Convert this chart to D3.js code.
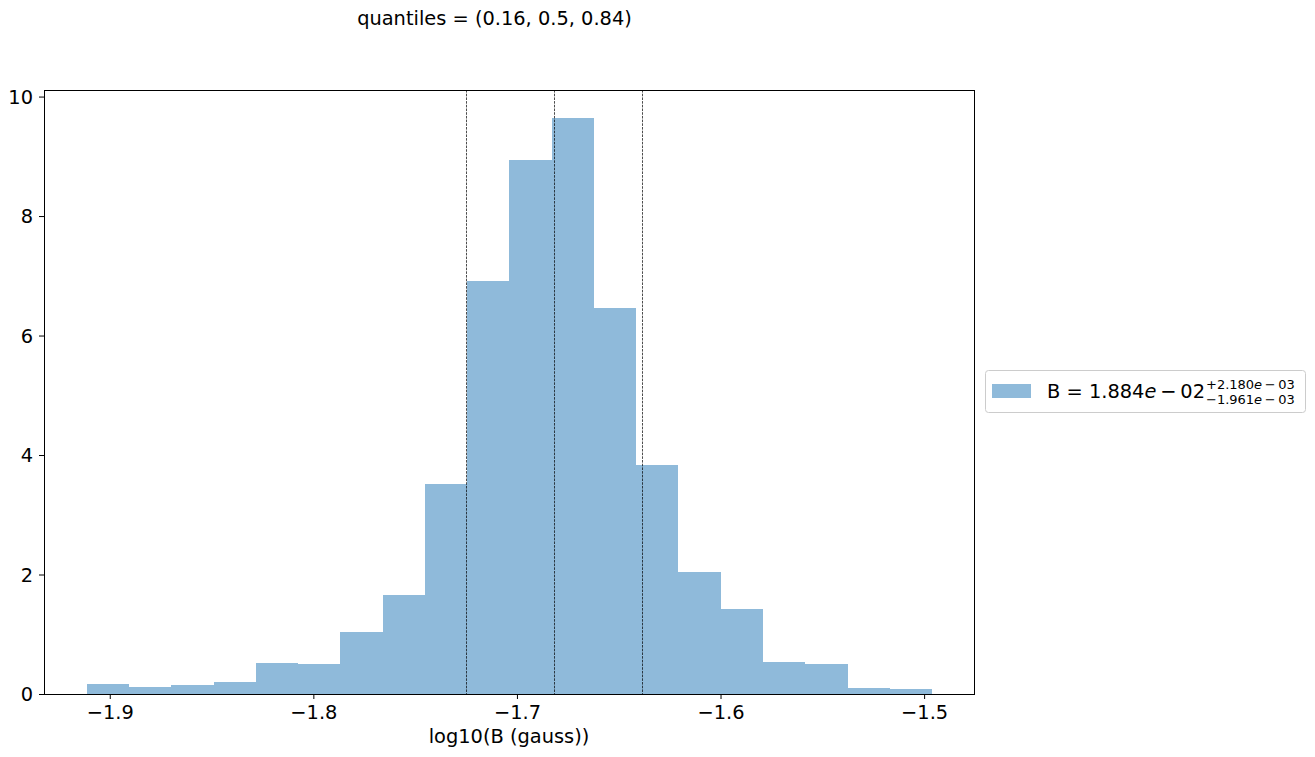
<!DOCTYPE html>
<html><head><meta charset="utf-8">
<script src="https://cdn.jsdelivr.net/npm/d3@7"></script>
<style>
body{margin:0;background:#fff;}
text{font-family:"DejaVu Sans",sans-serif;fill:#000;}
</style></head>
<body><svg id="c" width="1315" height="757"></svg>
<script>
const binStart = -1.9113;
const binWidth = 0.020760;
const densities = [0.167,0.117,0.151,0.200,0.519,0.502,1.04,1.657,3.51,6.91,8.94,9.64,6.46,3.83,2.04,1.42,0.536,0.50,0.10,0.084];
const quantileValues = [-1.7249,-1.6816,-1.6384];
const xTicks = [-1.9,-1.8,-1.7,-1.6,-1.5];
const yTicks = [0,2,4,6,8,10];
const titleText = "quantiles = (0.16, 0.5, 0.84)";
const xLabel = "log10(B (gauss))";

const svg = d3.select("#c");
const L=44,R=974,T=90,B=694;
const x = d3.scaleLinear().domain([-1.9323,-1.4755]).range([L,R]);
const y = d3.scaleLinear().domain([0,10.11]).range([B,T]);
const fs = 19.4;

const bins = densities.map((d,i)=>({x0:binStart+i*binWidth,x1:binStart+(i+1)*binWidth,v:d}));
svg.append("g").attr("shape-rendering","crispEdges").selectAll("rect").data(bins).join("rect")
  .attr("x",d=>x(d.x0)).attr("width",d=>x(d.x1)-x(d.x0))
  .attr("y",d=>y(d.v)).attr("height",d=>y(0)-y(d.v))
  .attr("fill","#8fbada");

svg.append("g").selectAll("line").data(quantileValues).join("line")
  .attr("x1",d=>Math.round(x(d))+0.5).attr("x2",d=>Math.round(x(d))+0.5)
  .attr("y1",T).attr("y2",B)
  .attr("stroke","#000").attr("stroke-width",0.7).attr("stroke-dasharray","2.6,1.1");

const fmt = d=> (d<0?"\u2212":"")+Math.abs(d).toFixed(1);
const xa = svg.append("g").attr("transform",`translate(0,${B})`)
  .call(d3.axisBottom(x).tickValues(xTicks).tickFormat(fmt).tickSize(5).tickPadding(6));
const ya = svg.append("g").attr("transform",`translate(${L},0)`)
  .call(d3.axisLeft(y).tickValues(yTicks).tickFormat(d3.format("d")).tickSize(5).tickPadding(6));
[xa,ya].forEach(a=>{
  a.select(".domain").remove();
  a.selectAll("line").attr("stroke","#000").attr("stroke-width",1);
  a.selectAll("text").style("font-size",fs+"px").style("font-family","DejaVu Sans");
});
ya.selectAll("text").attr("dy","0.35em");

svg.append("rect").attr("x",L+0.5).attr("y",T+0.5).attr("width",R-L).attr("height",B-T)
  .attr("fill","none").attr("stroke","#000").attr("stroke-width",1);

svg.append("text").attr("x",494.5).attr("y",25).attr("text-anchor","middle")
  .style("font-size",fs+"px").text(titleText);
svg.append("text").attr("x",509).attr("y",743).attr("text-anchor","middle")
  .style("font-size",fs+"px").text(xLabel);

// legend
const lg = svg.append("g");
lg.append("rect").attr("x",985.5).attr("y",370.5).attr("width",320).attr("height",42).attr("rx",3)
  .attr("fill","#fff").attr("stroke","#ccc").attr("stroke-width",1);
lg.append("rect").attr("x",992).attr("y",384).attr("width",39).attr("height",14)
  .attr("fill","#8fbada");
const t = lg.append("text").attr("x",1047).attr("y",398).style("font-size",fs+"px");
t.append("tspan").text("B = 1.884");
t.append("tspan").style("font-style","italic").text("e");
t.append("tspan").text("\u2009\u2212\u200902");
const bb = t.node().getBBox();
const sx = bb.x+bb.width+1;
lg.append("text").attr("x",sx).attr("y",389).style("font-size","13px")
  .html('+2.180<tspan font-style="italic">e</tspan>\u2009\u2212\u200903');
lg.append("text").attr("x",sx).attr("y",404).style("font-size","13px")
  .html('\u22121.961<tspan font-style="italic">e</tspan>\u2009\u2212\u200903');
</script></body></html>
